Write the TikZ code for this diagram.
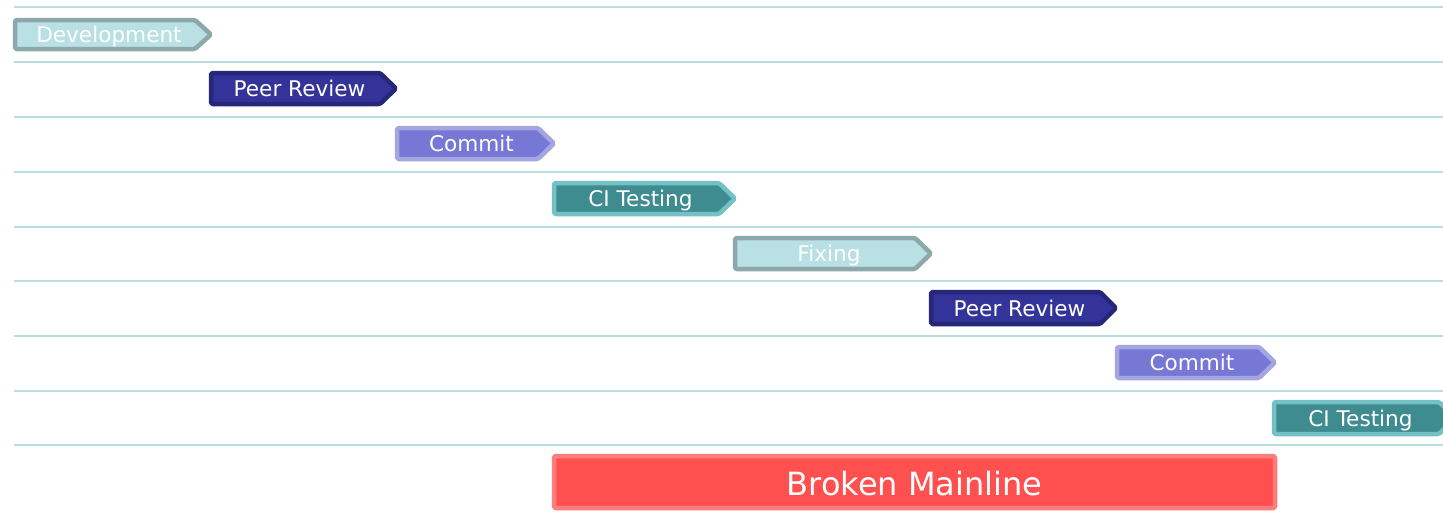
\documentclass[tikz,border=0pt]{standalone}
\usepackage{fontspec}
\setmainfont{DejaVu Sans}
\definecolor{rowline}{HTML}{B8DEE0}
\definecolor{devfill}{HTML}{B9E0E4}
\definecolor{devdraw}{HTML}{8EA8AA}
\definecolor{prfill}{HTML}{333399}
\definecolor{prdraw}{HTML}{27277A}
\definecolor{cmfill}{HTML}{7777D5}
\definecolor{cmdraw}{HTML}{A5A5E2}
\definecolor{cifill}{HTML}{3E8C90}
\definecolor{cidraw}{HTML}{73C1C5}
\definecolor{brfill}{HTML}{FF5050}
\definecolor{brdraw}{HTML}{FF7C7C}
\tikzset{
  rowrule/.style={draw=rowline, line width=2pt},
  chevbase/.style={line width=4.5pt, rounded corners=1.5pt, line join=round},
  devstyle/.style={chevbase, fill=devfill, draw=devdraw},
  prstyle/.style={chevbase, fill=prfill, draw=prdraw},
  cmstyle/.style={chevbase, fill=cmfill, draw=cmdraw},
  cistyle/.style={chevbase, fill=cifill, draw=cidraw},
  lbl/.style={text=white, font=\fontsize{21.6}{25}\selectfont, inner sep=0pt, anchor=base},
  biglbl/.style={text=white, font=\fontsize{32}{36}\selectfont, inner sep=0pt, anchor=base},
}
% name, x1, x2, y1, y2, style, text
\newcommand\chev[7]{%
  \draw[#6] (#2,#4) -- ({#3-16},#4) -- (#3,{(#4+#5)/2}) -- ({#3-16},#5) -- (#2,#5) -- cycle;
  \node[lbl] (#1) at ({(#2+#3)/2-4},{(#4+#5)/2+8}) {#7};}
\begin{document}
\begin{tikzpicture}[x=1pt,y=-1pt]
\useasboundingbox (0,0) rectangle (1443,520);
\clip (0,0) rectangle (1443,520);
\fill[white] (0,0) rectangle (1443,520);
\foreach \yy in {7,62,117,172,226.5,281,336,391,445}
  \draw[rowrule] (14,\yy) -- (1443,\yy);
\chev{dev}{15}{211}{20}{49}{devstyle}{Development}
\chev{pr1}{211}{396}{73}{104}{prstyle}{Peer Review}
\chev{cm1}{397}{554}{128}{159}{cmstyle}{Commit}
\chev{ci1}{554}{735}{183}{214}{cistyle}{CI Testing}
\chev{fix}{735}{931}{238}{269}{devstyle}{Fixing}
\chev{pr2}{931}{1116}{292}{324}{prstyle}{Peer Review}
\chev{cm2}{1117}{1275}{347}{378}{cmstyle}{Commit}
\chev{ci2}{1274}{1455}{402}{434}{cistyle}{CI Testing}
\draw[chevbase, fill=brfill, draw=brdraw] (554,456) rectangle (1275,508);
\node[biglbl] (broken) at (914.5,495) {Broken Mainline};
\end{tikzpicture}
\end{document}
